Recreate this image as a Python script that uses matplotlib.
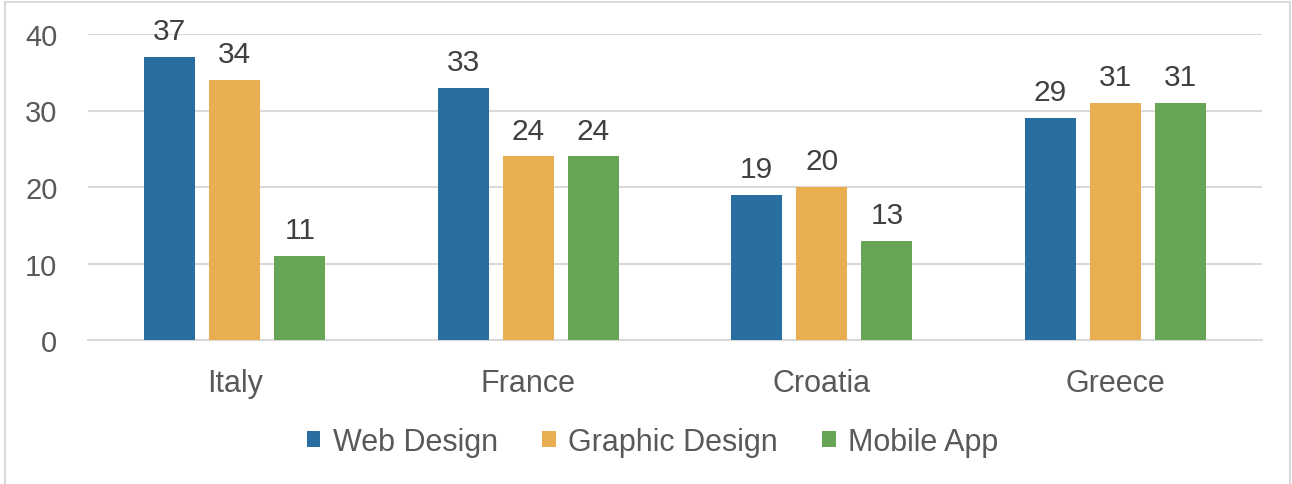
import matplotlib.pyplot as plt
import numpy as np
from matplotlib.patches import Rectangle

# данные
countries = ["Italy", "France", "Croatia", "Greece"]
web_design = [37, 33, 19, 29]
graphic_design = [34, 24, 20, 31]
mobile_app = [11, 24, 13, 31]

series = [
    ("Web Design", web_design, "#296EA0"),
    ("Graphic Design", graphic_design, "#E8AE50"),
    ("Mobile App", mobile_app, "#67A556"),
]

plt.rcParams['font.family'] = ['Liberation Sans', 'DejaVu Sans']

fig = plt.figure(figsize=(12.92, 4.85), dpi=100)
ax = fig.add_axes([88 / 1292, 144 / 485, (1262 - 88) / 1292, (341 - 35) / 485])

x = np.arange(len(countries))
width = 0.174
step = 0.222

for i, (name, vals, color) in enumerate(series):
    pos = x + (i - 1) * step
    bars = ax.bar(pos, vals, width, color=color, label=name, zorder=3)
    for b, v in zip(bars, vals):
        ax.annotate(str(v), (b.get_x() + b.get_width() / 2, v),
                    xytext=(0, 8.5), textcoords='offset points',
                    ha='center', va='bottom', fontsize=21.5, color='#404040')

ax.set_xlim(-0.5, 3.5)
ax.set_ylim(0, 40)
ax.set_yticks([0, 10, 20, 30, 40])
ax.set_xticks(x)
ax.set_xticklabels(countries)

# сетка
ax.grid(axis='y', color='#D9D9D9', linewidth=1.5, zorder=0)
for s in ['top', 'right', 'left']:
    ax.spines[s].set_visible(False)
ax.spines['bottom'].set_color('#D9D9D9')
ax.spines['bottom'].set_linewidth(1.5)

ax.tick_params(axis='both', length=0, labelsize=21, labelcolor='#595959')
ax.tick_params(axis='x', labelsize=22, pad=20)
ax.tick_params(axis='y', pad=22)

fig.legend(loc='center', bbox_to_anchor=(0.505, 0.0866), ncol=3, frameon=False,
           fontsize=22, labelcolor='#595959', handlelength=0.45, handleheight=0.45,
           handletextpad=0.4, columnspacing=1.45)

# рамка вокруг диаграммы
fig.patches.append(Rectangle((5 / 1292, -0.05), (1290 - 5) / 1292, 1.05 - 3 / 485,
                             transform=fig.transFigure, fill=False,
                             edgecolor='#D9D9D9', linewidth=1.5))

fig.savefig('out.png')
